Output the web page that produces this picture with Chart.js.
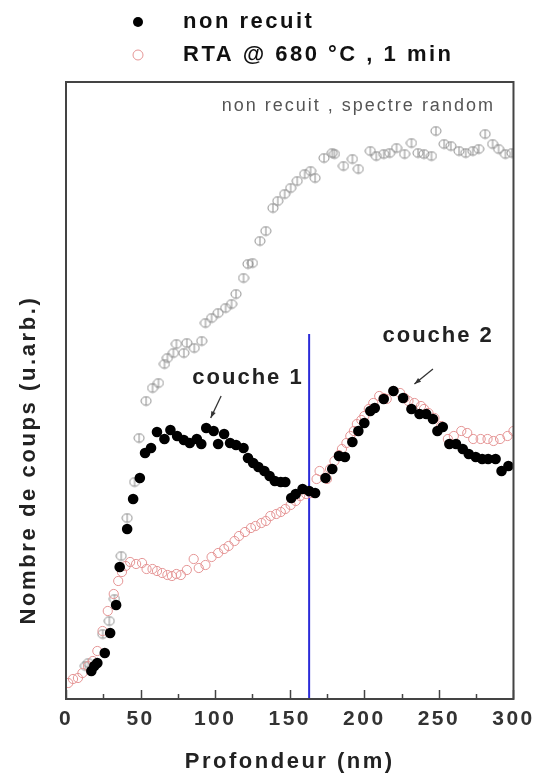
<!DOCTYPE html>
<html>
<head>
<meta charset="utf-8">
<script src="https://cdn.jsdelivr.net/npm/chart.js@4.4.1/dist/chart.umd.min.js"></script>
<style>
  body { margin: 0; background: #fff; }
  canvas { display: block; }
</style>
</head>
<body>
<canvas id="chart" width="539" height="775"></canvas>
<script>
// depth (nm) and counts (arb. units)
const recuitX = [17, 19, 21, 26, 29.6, 33.6, 36, 41, 45, 49.5, 53, 57, 61, 66, 70, 74.5, 79, 83, 87.7, 90.7,
    94, 99, 102, 106, 110, 114, 119, 122, 125.5, 129, 133, 136.5, 140, 144, 147, 151, 154, 158.6, 163, 167,
    174, 178.5, 183, 187, 192, 196, 200, 204, 207, 213, 219.5, 226, 231.6, 237, 241.5, 246, 249, 252.6, 257, 261.5,
    266, 270, 274.7, 279, 283, 288, 292, 296.6];
const recuitY = [28, 33, 36, 46, 66, 94, 132, 170, 200, 221, 246, 251, 267, 260, 269, 263, 259, 256, 260, 255,
    271, 268, 255, 265, 256, 254, 251, 241, 236, 232, 228, 223, 218, 217, 217, 201, 205, 210, 208, 206,
    221, 230, 243, 242, 257, 268, 276, 288, 291, 300, 308, 301, 290, 285, 285, 280, 268, 272, 255, 255,
    250, 245, 242, 240, 240, 240, 228, 233];

const rtaX = [1.5, 4.7, 8, 11, 14.7, 18, 21, 24.5, 28, 32, 35, 37.5, 40, 43, 47, 51, 54, 58, 61, 64.5,
    68, 71, 74, 77, 81, 85.6, 89, 93.5, 97.6, 102, 106, 109, 113, 116, 120, 124, 127, 131, 134, 137,
    141, 144, 147, 150.6, 154, 157, 161, 164, 168, 170, 175, 177, 180, 183, 185, 188, 190.6, 193, 195, 198,
    200, 203, 206, 210, 213, 215, 219.6, 224, 227, 229.6, 233.6, 238, 240, 243, 247, 251.5, 256, 260, 265, 269,
    273, 278, 282.6, 286.6, 291, 296, 300];
const rtaY = [16, 20, 21, 26, 33, 38, 48, 68, 88, 105, 118, 127, 133, 137, 135, 136, 130, 130, 128, 126,
    124, 123, 125, 124, 129, 140, 131, 134, 142, 146, 150, 153, 158, 163, 167, 171, 173, 176, 178, 183,
    185, 187, 190, 194, 198, 203, 205, 206, 220, 228, 220, 230, 238, 244, 250, 256, 263, 268, 275, 279,
    283, 290, 296, 303, 301, 300, 308, 306, 301, 298, 296, 293, 290, 286, 281, 273, 260, 263, 268, 266,
    260, 260, 260, 258, 260, 263, 268];

const randomX = [13, 15, 24.6, 29, 32.5, 37, 41, 46, 49, 53.7, 58, 62, 66, 68, 72, 74, 79, 81, 86, 91,
    93.5, 97.6, 102, 107, 111, 114, 119, 122, 125, 130, 134, 138.7, 142, 146.6, 150.6, 155, 160, 164, 167, 173,
    178.5, 180, 186, 192, 196, 204, 208, 213, 217, 221.6, 227, 231.6, 236, 240, 245, 248, 253.5, 258, 263.5, 268,
    272.7, 276.7, 281, 286, 290, 294.6, 299];
const randomY = [33, 36, 65, 78, 100, 143, 181, 217, 261, 298, 311, 316, 335, 341, 346, 355, 346, 356, 351, 358,
    376, 381, 386, 391, 395, 405, 421, 435, 436, 458, 468, 491, 498, 505, 511, 518, 525, 528, 521, 541,
    546, 545, 533, 540, 530, 548, 543, 545, 546, 551, 545, 556, 546, 545, 543, 568, 555, 553, 548, 546,
    548, 550, 565, 555, 550, 545, 546];

// interface position marker
const markerX = [163, 163];
const markerY = [0, 365];

const xTicks = [0, 50, 100, 150, 200, 250, 300];

const FONT = '"Liberation Sans", Arial, sans-serif';

const pairs = (xs, ys) => xs.map((x, i) => ({ x, y: ys[i] }));

// open circle with a vertical bar, as in the random spectrum
function barCircle(color) {
    const c = document.createElement('canvas');
    c.width = 12; c.height = 11;
    const g = c.getContext('2d');
    g.strokeStyle = color;
    g.lineWidth = 1;
    g.beginPath();
    g.ellipse(6, 5.5, 5, 4.3, 0, 0, Math.PI * 2);
    g.stroke();
    g.beginPath();
    g.moveTo(6, 1.2);
    g.lineTo(6, 9.8);
    g.stroke();
    return c;
}

const notes = [
    { text: 'non recuit , spectre random', x: 196, y: 593, font: '18px ' + FONT, color: '#555', spacing: '2px' },
    { text: 'couche 1', x: 122, y: 321, font: 'bold 22px ' + FONT, color: '#222', spacing: '2px' },
    { text: 'couche 2', x: 249.5, y: 363, font: 'bold 22px ' + FONT, color: '#222', spacing: '2px' },
];
const arrows = [
    { from: [104, 303], to: [97, 281] },
    { from: [246, 330], to: [233.6, 315] },
];

function drawArrow(ctx, x1, y1, x2, y2) {
    const a = Math.atan2(y2 - y1, x2 - x1);
    ctx.beginPath();
    ctx.moveTo(x1, y1);
    ctx.lineTo(x2, y2);
    ctx.stroke();
    ctx.beginPath();
    ctx.moveTo(x2, y2);
    ctx.lineTo(x2 - 7 * Math.cos(a - 0.35), y2 - 7 * Math.sin(a - 0.35));
    ctx.lineTo(x2 - 7 * Math.cos(a + 0.35), y2 - 7 * Math.sin(a + 0.35));
    ctx.closePath();
    ctx.fill();
}

const decor = {
    id: 'decor',
    beforeDraw(chart) {
        chart.ctx.letterSpacing = '2.5px';
    },
    afterDraw(chart) {
        const { ctx, chartArea: area, scales } = chart;
        const xs = scales.x, ys = scales.y;
        ctx.save();

        // frame
        ctx.strokeStyle = '#444';
        ctx.lineWidth = 2;
        ctx.strokeRect(area.left, area.top, area.right - area.left, area.bottom - area.top);

        // inward ticks
        ctx.lineWidth = 1.5;
        for (let v = 0; v <= 300; v += 25) {
            const px = Math.round(xs.getPixelForValue(v)) + 0.5;
            const len = v % 50 === 0 ? 9 : 5;
            ctx.beginPath();
            ctx.moveTo(px, area.bottom);
            ctx.lineTo(px, area.bottom - len);
            ctx.stroke();
        }

        // annotations
        ctx.textAlign = 'center';
        ctx.textBaseline = 'middle';
        notes.forEach(n => {
            ctx.font = n.font;
            ctx.fillStyle = n.color;
            ctx.letterSpacing = n.spacing;
            ctx.fillText(n.text, xs.getPixelForValue(n.x), ys.getPixelForValue(n.y));
        });
        ctx.strokeStyle = '#333';
        ctx.fillStyle = '#333';
        ctx.lineWidth = 1.3;
        arrows.forEach(a => drawArrow(ctx,
            xs.getPixelForValue(a.from[0]), ys.getPixelForValue(a.from[1]),
            xs.getPixelForValue(a.to[0]), ys.getPixelForValue(a.to[1])));

        // legend
        chart.data.datasets.slice(0, 2).forEach((ds, i) => {
            const cy = 22 + i * 33;
            ctx.beginPath();
            ctx.arc(138, cy, 5, 0, Math.PI * 2);
            if (i === 0) {
                ctx.fillStyle = '#000';
                ctx.fill();
            } else {
                ctx.strokeStyle = ds.borderColor;
                ctx.lineWidth = 1;
                ctx.stroke();
            }
            ctx.font = 'bold 22px ' + FONT;
            ctx.fillStyle = '#111';
            ctx.textAlign = 'left';
            ctx.letterSpacing = '2.5px';
            ctx.fillText(ds.label, 183, cy);
        });

        // y title
        ctx.translate(29, 460);
        ctx.rotate(-Math.PI / 2);
        ctx.textAlign = 'center';
        ctx.font = 'bold 22px ' + FONT;
        ctx.fillStyle = '#222';
        ctx.letterSpacing = '2.6px';
        ctx.fillText('Nombre de coups (u.arb.)', 0, 0);
        ctx.restore();
    }
};

new Chart(document.getElementById('chart'), {
    type: 'scatter',
    data: {
        datasets: [
            {
                label: 'non recuit',
                data: pairs(recuitX, recuitY),
                pointRadius: 5.3,
                pointBackgroundColor: '#000',
                pointBorderColor: '#000',
                pointBorderWidth: 0,
                order: 1,
            },
            {
                label: 'RTA @ 680 °C , 1 min',
                data: pairs(rtaX, rtaY),
                pointRadius: 4.6,
                pointBackgroundColor: 'rgba(0,0,0,0)',
                borderColor: '#e59595',
                pointBorderColor: '#e59595',
                pointBorderWidth: 1,
                order: 2,
            },
            {
                label: 'random',
                data: pairs(randomX, randomY),
                pointStyle: barCircle('#8a8a8a'),
                order: 3,
            },
            {
                type: 'line',
                label: 'marker',
                data: pairs(markerX, markerY),
                borderColor: '#2b2bd8',
                borderWidth: 2,
                pointRadius: 0,
                order: 4,
            },
        ]
    },
    options: {
        responsive: false,
        animation: false,
        layout: { padding: { top: 82, right: 21, left: 0, bottom: 0 } },
        plugins: { legend: { display: false }, tooltip: { enabled: false } },
        scales: {
            x: {
                type: 'linear',
                min: 0,
                max: 300,
                grid: { display: false, drawTicks: false },
                border: { display: false },
                afterBuildTicks: s => { s.ticks = xTicks.map(v => ({ value: v })); },
                afterFit: s => { s.height = 76; },
                ticks: {
                    autoSkip: false,
                    maxRotation: 0,
                    padding: 8,
                    color: '#333',
                    font: { family: FONT, size: 21, weight: 'bold' },
                },
                title: {
                    display: true,
                    text: 'Profondeur (nm)',
                    color: '#222',
                    font: { family: FONT, size: 22, weight: 'bold' },
                    padding: { top: 0, bottom: 0 },
                },
            },
            y: {
                min: 0,
                max: 617,
                grid: { display: false, drawTicks: false },
                border: { display: false },
                ticks: { display: false },
                afterFit: s => { s.width = 66; },
            }
        }
    },
    plugins: [decor]
});
</script>
</body>
</html>
